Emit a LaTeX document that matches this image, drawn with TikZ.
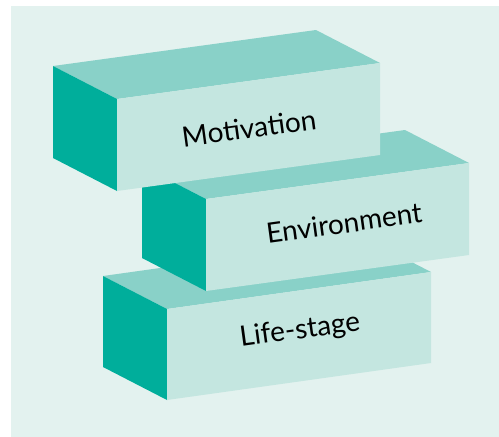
\documentclass[tikz,border=0pt]{standalone}
\usepackage{fontspec}
\setmainfont{Lato}
\definecolor{bgc}{HTML}{E3F2EF}
\definecolor{sidec}{HTML}{00AE9B}
\definecolor{topc}{HTML}{89D1C8}
\definecolor{frontc}{HTML}{C4E6E0}
\tikzset{
  sideface/.style={fill=sidec},
  topface/.style={fill=topc},
  frontface/.style={fill=frontc},
  lbl/.style={font=\fontsize{28}{32}\selectfont, text=black, rotate=7.8, inner sep=0pt}
}
\newcommand{\blockat}[8]{%
  % #1,#2 front top-left; #3,#4 front top-right; height #5; depth dx #6 dy #7; name #8
  \fill[topface] (#1,#2) -- (#3,#4) -- (#3+#6,#4+#7) -- (#1+#6,#2+#7) -- cycle;
  \fill[sideface] (#1,#2) -- (#1+#6,#2+#7) -- (#1+#6,#2+#7+#5) -- (#1,#2+#5) -- cycle;
  \fill[frontface] (#1,#2) -- (#3,#4) -- (#3,#4+#5) -- (#1,#2+#5) -- cycle;
}
\begin{document}
\begin{tikzpicture}[x=1pt,y=-1pt]
\useasboundingbox (0,0) rectangle (499,437);
\fill[bgc] (11,6) rectangle (499,437);
% Life-stage block
\blockat{167}{309}{431}{272}{91}{-64}{-33}{ls}
\node[lbl] (ls) at (300,331) {Life-stage};
% Environment block
\blockat{206}{199}{469}{163}{92}{-64}{-33}{env}
\node[lbl] (env) at (344,223) {Environment};
% Motivation block
\blockat{117}{99}{380}{63}{92}{-64}{-33}{mot}
\node[lbl] (mot) at (249,128) {Motivation};
\end{tikzpicture}
\end{document}
